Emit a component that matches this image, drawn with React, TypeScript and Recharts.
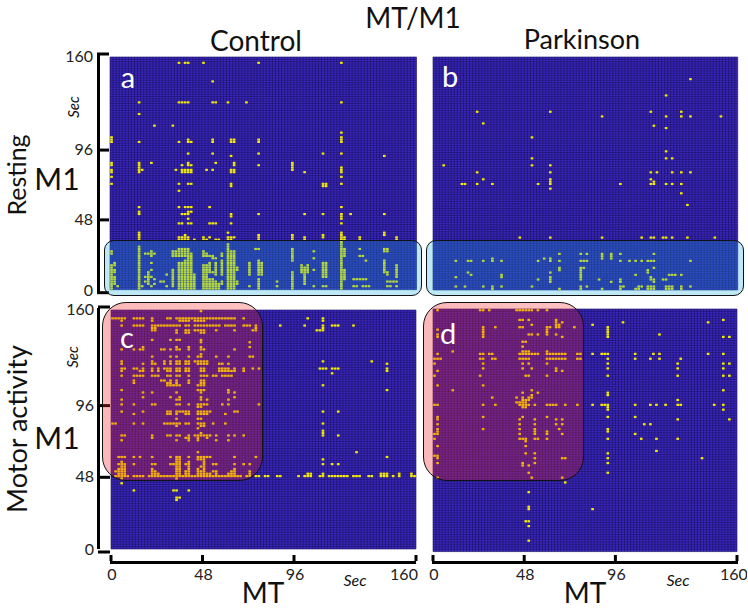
import React from 'react';
import { CartesianGrid, Scatter, ScatterChart, XAxis, YAxis } from 'recharts';

// Significant cells. A cell is one 1.6 s bin, columns count MT bins from
// the left and rows count M1 bins from the top.
type Row = [number, number[]];
type Run = [number, number, number]; // column, first row, last row

const axisTicks = [0, 48, 96, 160];

const restingControlRows: Row[] = [
  [2, [22, 24, 25, 30, 48, 75]],
  [10, [33]],
  [19, [9, 22, 23, 24, 25, 33, 34, 38, 44, 75]],
  [24, [9]],
  [29, [14, 20]],
  [32, [75]],
  [34, [0, 75]],
  [35, [0, 25, 33, 39, 40, 48, 75]],
  [36, [0, 9, 22, 25, 26, 33, 39, 40, 48, 75]],
  [41, [25, 33, 48, 69, 75]],
  [42, [39, 89]],
  [45, [0, 9, 13, 25, 34, 40, 59]],
  [46, [0, 9, 23, 25, 26, 40, 48, 59]],
  [47, [9, 59, 75]],
  [48, [0, 9, 10, 21, 23, 24, 25, 26, 31, 33, 39, 40, 59, 75]],
  [49, [0, 9, 23, 24, 25, 26, 39, 40, 63, 75]],
  [51, [0, 75]],
  [54, [0, 22, 25, 26, 39, 69, 70, 75]],
  [55, [39, 69, 70]],
  [57, [22]],
  [64, [9, 22, 24, 25, 26, 32, 75]],
  [66, [9, 25, 26]],
  [67, [9, 23, 24, 25, 39, 48, 63, 69, 75, 78, 89]],
  [68, [39, 75]],
  [69, [25, 75]],
  [71, [22, 23, 25, 26, 32, 33, 34, 39, 75]],
  [75, [9, 38, 75, 89]],
  [76, [9, 24, 48, 59, 69, 75, 89]],
  [77, [9, 22, 23, 24, 25, 30, 32, 38, 39, 40, 48, 59, 63, 69, 75, 76, 81, 93]],
  [78, [22, 23, 24, 25, 27, 30, 31, 34, 35, 38, 39, 48, 59, 63, 75, 76, 81, 93]],
  [84, [11, 12, 14]],
  [82, [47, 48, 81, 89, 90]],
  [83, [66, 89, 90]],
  [85, [81, 82]],
  [86, [66]],
  [87, [83]],
  [91, [13, 66]],
  [93, [18]],
  [94, [11, 13]],
  [95, [14, 79, 80, 81, 82, 83]],
  [96, [11, 16, 17, 54, 90, 91, 92, 93]],
  [97, [14]],
  [98, [10, 13, 18, 54, 66, 69, 70, 79, 80, 82, 83, 84, 90, 91, 93]],
];
const restingControlRuns: Run[] = [
  [0, 83, 84], [0, 89, 99], [1, 88, 89], [1, 91, 92], [1, 94, 97], [2, 98, 98],
  [9, 78, 78], [9, 81, 99], [13, 83, 85], [13, 88, 88], [12, 92, 97],
  [20, 83, 85], [20, 91, 98], [21, 83, 85], [22, 82, 85], [23, 82, 85], [24, 82, 85], [25, 82, 85], [26, 84, 85],
  [22, 88, 99], [23, 88, 99], [24, 87, 99], [25, 86, 99], [26, 86, 99], [27, 93, 99],
  [30, 83, 85], [30, 89, 99], [31, 84, 85], [31, 89, 99], [32, 85, 85], [32, 88, 92], [32, 95, 99],
  [33, 85, 86], [33, 92, 92], [33, 95, 99], [34, 86, 86], [34, 88, 93], [34, 96, 99], [35, 97, 99],
  [36, 84, 85], [36, 87, 93], [36, 96, 97], [38, 80, 99], [39, 83, 99], [40, 83, 99], [41, 90, 91], [41, 96, 97],
  [45, 88, 93], [45, 98, 98], [48, 87, 93], [48, 95, 99], [49, 88, 93],
  [59, 82, 87], [59, 92, 99], [62, 89, 92], [63, 90, 97], [64, 89, 92], [69, 88, 94], [70, 88, 94],
  [75, 78, 99], [76, 82, 85], [76, 91, 95], [89, 87, 92], [90, 92, 93], [93, 89, 94],
];

const restingParkinsonRows: Row[] = [
  [9, [84]],
  [16, [76]],
  [23, [14, 38, 71, 81]],
  [25, [55, 76, 81, 84, 94]],
  [28, [16]],
  [29, [72]],
  [30, [76]],
  [34, [32]],
  [40, [76]],
  [43, [32, 76, 78]],
  [46, [3, 32, 38]],
  [49, [14, 38, 71, 73, 78, 81, 84]],
  [52, [16, 38, 71]],
  [53, [38, 72]],
  [54, [9, 10, 14, 19, 34, 38, 61, 71, 72, 76, 78, 81]],
  [56, [38]],
  [58, [81]],
  [63, [83]],
  [77, [28, 38, 55, 68, 71, 72, 75, 76, 78, 83, 92]],
  [84, [41, 48, 50, 55, 58, 61, 72]],
  [85, [55, 58]],
  [86, [19, 36, 38, 55, 58]],
  [87, [7, 11, 12, 16, 19, 22, 34, 38, 41, 48, 49, 50, 61, 64, 66, 68, 70, 71, 72, 84]],
  [90, [41, 48, 49, 72]],
  [91, [41, 48, 70]],
  [92, [11, 38, 48, 70]],
  [93, [12, 22, 48, 66, 77, 78, 79, 81]],
  [94, [7, 22, 38, 48, 71]],
  [95, [34, 38, 48, 54, 61, 71, 72, 75, 76]],
  [96, [38, 58, 61, 72]],
  [98, [7, 10, 16, 19, 22, 32, 48, 50, 61, 62, 67, 68, 70, 71, 72, 76, 77, 78, 81, 84]],
  [99, [19, 41, 48, 55, 61, 66, 67, 70, 71, 72, 76, 77, 78, 81]],
];

const motorControlRows: Row[] = [
  [0, [29]],
  [3, [0, 1, 2, 3, 4, 7, 8, 9, 10, 13, 18, 19, 21, 22, 23, 24, 25, 26, 27, 28, 29, 30, 31, 32, 33, 34, 35, 36, 37, 38, 39, 40, 43, 64, 69]],
  [4, [3, 13, 22, 23, 24, 25, 27, 28, 29, 30, 69]],
  [6, [3, 7, 8, 9, 10, 13, 14, 15, 16, 17, 18, 19, 20, 21, 22, 24, 25, 27, 28, 29, 30, 31, 32, 33, 34, 35, 37, 38, 39, 40, 43, 44, 45, 47, 55, 63, 69, 72, 73, 74, 79]],
  [7, [13, 14, 47, 69]],
  [8, [13, 14, 21, 24, 25, 27, 28, 29, 30, 34, 40, 46, 47, 67, 68, 69]],
  [9, [21, 24, 25, 29, 30]],
  [12, [13, 19, 21, 22, 29]],
  [13, [29, 45]],
  [15, [10, 21, 25, 29, 45]],
  [16, [3, 7, 9, 10, 16, 17, 19, 21, 22, 25, 29, 30, 40]],
  [18, [29]],
  [19, [13, 19, 21, 25, 28, 29, 34, 38, 45, 46]],
  [21, [3, 13, 17, 19, 21, 22, 24, 25, 27, 28, 29, 30, 31, 69, 85]],
  [22, [3, 10, 13, 14, 17, 19, 21, 22, 24, 25, 28, 29, 30, 31, 35, 36, 38, 90]],
  [24, [3, 4, 7, 8, 10, 13, 15, 17, 18, 19, 21, 22, 24, 25, 29, 30, 35, 36, 37, 38, 40, 43, 46, 48, 68, 69, 70, 72, 73, 74, 90]],
  [25, [3, 9, 10, 13, 15, 18, 19, 21, 22, 24, 25, 29, 30, 35, 36, 37, 38, 39, 40, 43, 90]],
  [26, [72]],
  [27, [3, 7, 8, 9, 10, 13, 14, 15, 18, 19, 21, 22, 25, 29, 30, 31, 33, 34, 36, 37, 38, 39]],
  [29, [7, 16, 17, 19, 21, 25, 29, 30]],
  [30, [7, 18, 19, 21, 25, 29, 30]],
  [31, [18, 19, 20, 21, 22, 28, 29, 30, 69]],
  [33, [3, 28, 29, 30, 38, 90]],
  [34, [10, 13, 21, 29, 38, 40]],
  [36, [10, 19, 22, 29, 40]],
  [37, [3, 21, 22, 29, 31, 38]],
  [39, [3, 7, 13, 14, 21, 22, 25, 28, 29, 30, 31, 36, 38, 48]],
  [40, [28, 29]],
  [42, [3, 10, 18, 19, 21, 22, 23, 24, 25, 28, 29, 30, 31, 32, 40, 41, 69, 74]],
  [43, [7, 18, 19, 21, 24, 25, 28, 29, 30, 31, 37]],
  [45, [21, 28, 29]],
  [47, [0, 1, 7, 10, 17, 18, 19, 20, 21, 22, 24, 25, 28, 29, 30, 33, 37, 69]],
  [48, [21, 29, 30]],
  [49, [28]],
  [50, [69]],
  [51, [29, 69]],
  [52, [3, 4, 13, 18, 19, 21, 22, 25, 27, 28, 29, 30, 31, 32, 34, 38, 40, 43, 69, 74]],
  [53, [13, 24, 25, 28, 31]],
  [54, [3, 21, 25, 28, 34, 38]],
  [59, [28, 80]],
  [61, [2, 3, 4, 7, 9, 13, 19, 21, 22, 25, 28, 29, 30, 31, 32, 40, 47, 90]],
  [62, [21, 22, 28, 29, 30, 69]],
  [63, [3, 21, 22, 25, 30]],
  [64, [2, 3, 4, 7, 13, 14, 19, 20, 21, 22, 24, 25, 30, 33, 34, 40, 43, 45, 69, 72, 74]],
  [65, [3, 4, 21, 22, 25, 29, 30]],
  [66, [2, 3, 4, 13, 21, 22, 25, 28, 30, 40]],
  [67, [1, 2, 3, 4, 13, 14, 21, 22, 24, 25, 28, 29, 30, 33, 34, 39, 40, 45]],
  [68, [2, 3, 4, 13, 14, 15, 21, 22, 24, 25, 28, 29, 30, 31, 32, 34, 38, 39, 40, 45, 64, 65, 69, 88, 89, 90, 94, 98]],
  [69, [1, 2, 3, 4, 5, 7, 8, 9, 10, 12, 13, 14, 15, 16, 17, 18, 19, 20, 21, 22, 23, 24, 25, 26, 27, 28, 29, 30, 31, 32, 33, 34, 35, 36, 37, 38, 39, 40, 41, 42, 44, 45, 47, 48, 50, 51, 54, 55, 61, 63, 64, 65, 68, 69, 71, 72, 73, 74, 75, 76, 77, 79, 80, 81, 84, 85, 88, 89, 90, 92, 94, 98, 99]],
  [70, [3, 21]],
  [72, [3]],
  [75, [7, 20, 21, 25]],
  [78, [21, 22]],
  [79, [21]],
];

const motorParkinsonRows: Row[] = [
  [0, [1, 15, 16, 18, 27, 28, 29, 30, 31, 32, 34, 37]],
  [4, [28, 29, 31, 40, 95]],
  [5, [40, 42, 62, 90]],
  [6, [32, 40, 41, 52]],
  [7, [16, 20, 28, 29, 37, 38, 40, 41, 46, 57]],
  [8, [1, 16, 37, 57]],
  [9, [16, 37, 57]],
  [10, [1, 16, 31, 32, 34, 37, 40, 57, 74]],
  [11, [1, 16, 42, 57, 95, 97]],
  [13, [29, 30]],
  [15, [29]],
  [17, [6, 29, 30, 31, 37]],
  [18, [1, 15, 16, 18, 19, 28, 29, 30, 31, 32, 33, 34, 37, 38, 39, 40, 41, 42, 43, 47, 48, 52, 55, 56, 57, 66, 72, 74, 90, 95]],
  [20, [0, 1, 2, 15, 16, 19, 20, 28, 29, 30, 31, 37, 38, 39, 40, 41, 42, 43, 47, 48, 57, 66, 71, 74, 81]],
  [22, [0, 16, 29, 31, 37, 57, 80, 95, 97]],
  [24, [16, 29, 32, 40, 57, 80, 95]],
  [25, [1, 40, 42]],
  [27, [0, 15, 30, 31, 37, 57, 80, 95, 97]],
  [31, [1, 16]],
  [33, [6, 32, 95]],
  [34, [29, 34, 57]],
  [35, [32, 57]],
  [36, [19, 27, 29, 31, 32]],
  [37, [29, 30, 31, 80]],
  [38, [27, 28, 29, 30]],
  [39, [0, 1, 16, 20, 28, 29, 30, 31, 33, 37, 38, 39, 40, 43, 47, 52, 55, 56, 57, 66, 71, 73, 76, 80, 81, 92, 95]],
  [40, [29, 30, 57]],
  [41, [57, 95]],
  [44, [1, 16, 29, 37, 57, 66]],
  [45, [1, 28, 33, 40, 42, 80, 97]],
  [47, [1, 28, 33, 40, 42, 69, 71]],
  [49, [1, 16, 28, 33, 41, 57]],
  [50, [1, 33, 37, 57]],
  [51, [0, 1, 28, 33, 37, 42, 66]],
  [53, [0, 28, 29, 30, 33, 34, 37, 57, 68, 73, 80]],
  [54, [30]],
  [56, [1, 30]],
  [58, [73]],
  [59, [30, 33, 57]],
  [60, [0, 1]],
  [61, [1, 33, 42, 43, 57, 88]],
  [63, [1, 29, 33, 57]],
  [64, [29, 31]],
  [67, [31, 57]],
  [69, [1, 32, 42]],
  [71, [43]],
  [75, [31]],
  [81, [31]],
  [82, [31, 52]],
  [87, [30, 31]],
  [89, [31]],
  [95, [31]],
];

const BIN = 1.6;
const LEFT_PAD = 50;
const RIGHT_PAD = 10;
const TOP_PAD = 14;
const BOTTOM_PAD = 44;
const X_TICK_TOP = 555;
const X_TICK_BOTTOM = 561;
const X_LABEL_BASELINE = 580;
const gridValues = Array.from({ length: 101 }, (_, i) => i * BIN);

function toPoints(rows: Row[], runs: Run[] = []) {
  const points: { mt: number; m1: number }[] = [];
  rows.forEach(([row, cols]) => cols.forEach((col) => {
    points.push({ mt: (col + 0.5) * BIN, m1: 160 - (row + 0.5) * BIN });
  }));
  runs.forEach(([col, from, to]) => {
    for (let row = from; row <= to; row++) points.push({ mt: (col + 0.5) * BIN, m1: 160 - (row + 0.5) * BIN });
  });
  return points;
}

interface PanelProps {
  left: number;
  top: number;
  width: number;
  height: number;
  data: { mt: number; m1: number }[];
  yAxis?: boolean;
  xAxis?: boolean;
  lastLabelShift?: number;
}

function Panel({ left, top, width, height, data, yAxis, xAxis, lastLabelShift = 0 }: PanelProps) {
  const cellW = width / 100;
  const cellH = height / 100;
  const toLocalY = (pageY: number) => pageY - top + TOP_PAD;

  const YTick = ({ y, payload }: any) => {
    const v = payload.value;
    const shift = v === 160 ? -3 : v === 0 ? 3 : 0;
    return (
      <g>
        <line x1={LEFT_PAD - 13} x2={LEFT_PAD - 1} y1={y + shift} y2={y + shift} stroke="#000" strokeWidth={3} />
        <text x={LEFT_PAD - 17} y={y + 5 + (v === 0 ? 1 : 0)} textAnchor="end" fontSize={16} fill="#222">{v}</text>
      </g>
    );
  };

  const XTick = ({ x, payload }: any) => {
    const v = payload.value;
    return (
      <g>
        <line x1={x} x2={x} y1={toLocalY(X_TICK_TOP)} y2={toLocalY(X_TICK_BOTTOM)} stroke="#000" strokeWidth={3} />
        <text x={v === 160 ? x + lastLabelShift : x + 1} y={toLocalY(X_LABEL_BASELINE)} textAnchor="middle" fontSize={16} fill="#222">{v}</text>
      </g>
    );
  };

  return (
    <div style={{ position: 'absolute', left: left - LEFT_PAD, top: top - TOP_PAD }}>
      <ScatterChart
        width={width + LEFT_PAD + RIGHT_PAD}
        height={height + TOP_PAD + BOTTOM_PAD}
        margin={{ top: TOP_PAD, right: RIGHT_PAD, bottom: xAxis ? 0 : BOTTOM_PAD, left: yAxis ? 0 : LEFT_PAD }}
      >
        <CartesianGrid
          fill="#3c28c0"
          stroke="#1a1060"
          strokeWidth={0.6}
          horizontalValues={gridValues}
          verticalValues={gridValues}
        />
        <XAxis
          type="number"
          dataKey="mt"
          domain={[0, 160]}
          ticks={axisTicks}
          hide={!xAxis}
          axisLine={false}
          tickLine={false}
          height={BOTTOM_PAD}
          tick={XTick}
          interval={0}
        />
        <YAxis
          type="number"
          dataKey="m1"
          domain={[0, 160]}
          ticks={axisTicks}
          hide={!yAxis}
          axisLine={false}
          tickLine={false}
          width={LEFT_PAD}
          tick={YTick}
          interval={0}
        />
        <Scatter
          data={data}
          isAnimationActive={false}
          shape={({ cx, cy }: any) => (
            <rect x={cx - cellW / 2 + 0.2} y={cy - cellH / 2 + 0.1} width={cellW - 0.4} height={cellH - 0.2} fill="#f6ee00" />
          )}
        />
      </ScatterChart>
    </div>
  );
}

const label = (x: number, y: number, size: number, extra: React.CSSProperties = {}): React.CSSProperties => ({
  position: 'absolute',
  left: x,
  top: y,
  fontSize: size,
  lineHeight: 1,
  whiteSpace: 'nowrap',
  transform: 'translate(-50%, -50%)',
  color: '#111',
  ...extra,
});

const box = (l: number, t: number, r: number, b: number, radius: number, background: string): React.CSSProperties => ({
  position: 'absolute',
  left: l,
  top: t,
  width: r - l,
  height: b - t,
  boxSizing: 'border-box',
  borderRadius: radius,
  border: '1.5px solid #111',
  background,
});

const spine = (l: number, t: number, w: number, h: number): React.CSSProperties => ({
  position: 'absolute', left: l, top: t, width: w, height: h, background: '#000',
});

const BLUE_VEIL = 'rgba(23,171,218,0.28)';
const RED_VEIL = 'linear-gradient(90deg, rgba(245,35,35,0.32), rgba(245,35,35,0.28))';
const ROTATED = 'translate(-50%, -50%) rotate(-90deg)';

export default function App() {
  return (
    <div style={{ position: 'absolute', left: 0, top: 0, width: 748, height: 610, background: '#fff', overflow: 'hidden', fontFamily: 'Lato, sans-serif' }}>
      <Panel left={110} top={57.3} width={306.5} height={232.7} data={toPoints(restingControlRows, restingControlRuns)} yAxis />
      <Panel left={433.3} top={57} width={304.7} height={233} data={toPoints(restingParkinsonRows)} />
      <Panel left={111} top={310} width={305} height={239} data={toPoints(motorControlRows)} yAxis xAxis lastLabelShift={-12} />
      <Panel left={432.7} top={309} width={304} height={242.6} data={toPoints(motorParkinsonRows)} xAxis lastLabelShift={-3} />

      <div style={spine(97, 54, 3, 240)} />
      <div style={spine(97, 307.5, 3, 241)} />
      <div style={spine(110, 560.5, 306, 3)} />
      <div style={spine(432, 560.5, 306, 3)} />

      <div style={box(104, 239.5, 422, 295.5, 10, BLUE_VEIL)} />
      <div style={box(426, 239.5, 744, 295.5, 10, BLUE_VEIL)} />
      <div style={box(101.5, 302, 263, 481, 24, RED_VEIL)} />
      <div style={box(422.5, 302, 584, 481, 24, RED_VEIL)} />

      <div style={label(413, 17, 28)}>MT/M1</div>
      <div style={label(256, 40, 28)}>Control</div>
      <div style={label(582, 38, 27)}>Parkinson</div>
      <div style={label(16, 175, 25, { transform: ROTATED })}>Resting</div>
      <div style={label(16, 429, 27, { transform: ROTATED })}>Motor activity</div>
      <div style={label(57, 178, 30)}>M1</div>
      <div style={label(57, 437, 30)}>M1</div>
      <div style={label(263, 592, 28)}>MT</div>
      <div style={label(585, 592, 28)}>MT</div>
      <div style={label(73, 107, 15, { fontStyle: 'italic', transform: ROTATED })}>Sec</div>
      <div style={label(72, 357, 15, { fontStyle: 'italic', transform: ROTATED })}>Sec</div>
      <div style={label(355, 580, 16, { fontStyle: 'italic' })}>Sec</div>
      <div style={label(678, 580, 16, { fontStyle: 'italic' })}>Sec</div>
      <div style={label(128, 76, 29, { color: '#fff' })}>a</div>
      <div style={label(450, 75, 29, { color: '#fff' })}>b</div>
      <div style={label(127, 336, 29, { color: '#fff' })}>c</div>
      <div style={label(448, 332, 29, { color: '#fff' })}>d</div>
    </div>
  );
}
